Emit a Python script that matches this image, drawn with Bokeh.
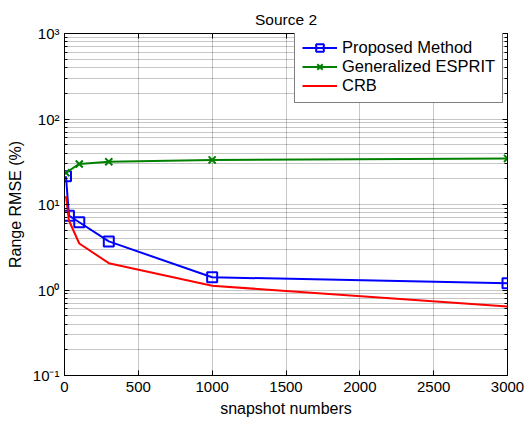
from bokeh.plotting import figure
from bokeh.models import (Range1d, FixedTicker, LinearAxis, LogAxis,
                          CustomJSTickFormatter, Legend, LegendItem)
from bokeh.embed import file_html
from bokeh.resources import INLINE

# ---------------- data ----------------
title_text = "Source 2"
x_label = "snapshot numbers"
y_label = "Range RMSE (%)"

x_ticks = [0, 500, 1000, 1500, 2000, 2500, 3000]
y_ticks = [0.1, 1, 10, 100, 1000]
y_tick_labels = ["10\u207b\u00b9", "10\u2070", "10\u00b9", "10\u00b2", "10\u00b3"]
y_minor_mult = [2, 3, 4, 5, 6, 7, 8, 9]

proposed_x = [10, 30, 100, 300, 1000, 3000]
proposed_y = [21.4, 7.4, 6.2, 3.7, 1.41, 1.2]

esprit_x = [10, 100, 300, 1000, 3000]
esprit_y = [23.5, 29.8, 31.6, 33.2, 34.6]

crb_x = [10, 30, 100, 300, 1000, 3000]
crb_y = [12.5, 6.5, 3.5, 2.06, 1.12, 0.64]

series_names = ["Proposed Method", "Generalized ESPRIT", "CRB"]

# ---------------- figure ----------------
FONT = "Liberation Sans"
y_minor = [m * t for t in y_ticks[:-1] for m in y_minor_mult]

p = figure(width=527, height=421,
           x_range=Range1d(0, 3000), y_range=Range1d(0.1, 1000),
           y_axis_type="log", output_backend="svg", toolbar_location=None,
           min_border_left=64, min_border_right=20,
           min_border_top=33, min_border_bottom=46)

p.title.text = title_text
p.title.text_font = FONT
p.title.text_font_size = "15.5px"
p.title.text_font_style = "normal"
p.title.text_color = "black"
p.title.align = "center"
p.title.offset = -3
p.title.standoff = 11

p.outline_line_color = "black"
p.background_fill_color = "white"
p.border_fill_color = "white"

xt = FixedTicker(ticks=x_ticks)
yt = FixedTicker(ticks=y_ticks, minor_ticks=y_minor)

yfmt = CustomJSTickFormatter(args=dict(vals=y_ticks, labs=y_tick_labels), code="""
for (let i = 0; i < vals.length; i++) {
  if (Math.abs(Math.log10(tick) - Math.log10(vals[i])) < 1e-6) return labs[i];
}
return "";
""")


def style_axis(ax):
    ax.axis_line_color = "black"
    ax.axis_line_width = 1
    ax.major_tick_line_color = "black"
    ax.minor_tick_line_color = "black"
    ax.major_tick_in = 5
    ax.major_tick_out = 0
    ax.minor_tick_in = 3
    ax.minor_tick_out = 0
    ax.major_label_text_font = FONT
    ax.major_label_text_font_size = "15px"
    ax.major_label_text_color = "black"
    ax.axis_label_text_font = FONT
    ax.axis_label_text_font_size = "16px"
    ax.axis_label_text_font_style = "normal"
    ax.axis_label_text_color = "black"


xa = p.xaxis[0]
xa.ticker = xt
style_axis(xa)
xa.axis_label = x_label
xa.major_label_standoff = 6
xa.axis_label_standoff = 5

ya = p.yaxis[0]
ya.ticker = yt
ya.formatter = yfmt
style_axis(ya)
ya.axis_label = y_label
ya.major_label_standoff = 5
ya.axis_label_standoff = 6

top = LinearAxis(ticker=FixedTicker(ticks=x_ticks))
style_axis(top)
top.major_label_text_alpha = 0
top.major_label_text_font_size = "1px"
top.major_label_standoff = 0
p.add_layout(top, "above")

right = LogAxis(ticker=FixedTicker(ticks=y_ticks, minor_ticks=y_minor))
style_axis(right)
right.major_label_text_alpha = 0
right.major_label_text_font_size = "1px"
right.major_label_standoff = 0
p.add_layout(right, "right")

for g in (p.xgrid[0], p.ygrid[0]):
    g.grid_line_color = "#000000"
    g.grid_line_alpha = 0.45
    g.grid_line_dash = "1 1"
    g.grid_line_width = 1
p.xgrid[0].ticker = xt
p.ygrid[0].ticker = yt
p.ygrid[0].minor_grid_line_color = "#000000"
p.ygrid[0].minor_grid_line_alpha = 0.45
p.ygrid[0].minor_grid_line_dash = "1 1"

# ---------------- series ----------------
BLUE, GREEN, RED = "#0000ff", "#008000", "#ff0000"

l1 = p.line(proposed_x, proposed_y, line_color=BLUE, line_width=2)
m1 = p.scatter(proposed_x, proposed_y, marker="square", size=10,
               line_color=BLUE, line_width=2, fill_color=None)
l2 = p.line(esprit_x, esprit_y, line_color=GREEN, line_width=2)
m2 = p.scatter(esprit_x, esprit_y, marker="x", size=10,
               line_color=GREEN, line_width=2)
l3 = p.line(crb_x, crb_y, line_color=RED, line_width=2)

legend = Legend(items=[
    LegendItem(label=series_names[0], renderers=[l1, m1]),
    LegendItem(label=series_names[1], renderers=[l2, m2]),
    LegendItem(label=series_names[2], renderers=[l3]),
], location=(230, 272))
legend.label_text_font = FONT
legend.label_text_font_size = "16.5px"
legend.label_text_color = "black"
legend.border_line_color = "black"
legend.border_line_width = 1
legend.background_fill_color = "white"
legend.background_fill_alpha = 1
legend.glyph_width = 35
legend.glyph_height = 19
legend.label_height = 19
legend.label_standoff = 5
legend.spacing = 0
legend.padding = 7
legend.margin = 0
p.add_layout(legend, "center")

open("out.html", "w").write(file_html(p, INLINE))
